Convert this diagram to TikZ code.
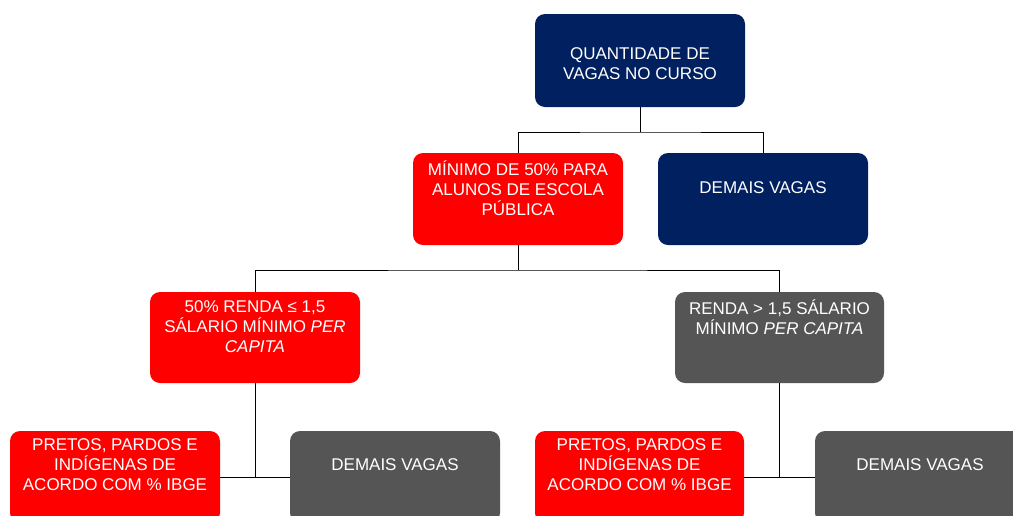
\documentclass[tikz,border=0pt]{standalone}
\usepackage{fontspec}
\setmainfont{Liberation Sans}
\definecolor{navy}{HTML}{002060}
\definecolor{redbox}{HTML}{FF0000}
\definecolor{graybox}{HTML}{555555}
\tikzset{
  box/.style={draw=none, rounded corners=10pt, minimum width=210pt, minimum height=92pt, inner sep=0pt},
  txt/.style={text=white, align=center, inner sep=0pt, font=\fontsize{17}{20}\selectfont},
  conn/.style={draw=black, line width=1pt}
}
\begin{document}
\begin{tikzpicture}[x=1pt, y=-1pt]
\useasboundingbox (0,0) rectangle (1013,515);
\clip (0,0) rectangle (1013,515);
\fill[white] (0,0) rectangle (1013,515);
% boxes
\node[box, fill=navy, minimum height=93pt] (q) at (640,60.5) {};
\node[box, fill=redbox] (m) at (518,199) {};
\node[box, fill=navy] (d1) at (763,199) {};
\node[box, fill=redbox, minimum height=91pt] (r1) at (255,337.5) {};
\node[box, fill=graybox, minimum height=91pt, minimum width=209pt] (r2) at (779.5,337.5) {};
\node[box, fill=redbox] (p1) at (115,477) {};
\node[box, fill=graybox] (d2) at (395,477) {};
\node[box, fill=redbox, minimum width=209pt] (p2) at (639.5,477) {};
\node[box, fill=graybox] (d3) at (920,477) {};
% texts
\node[txt] (tq) at ([yshift=-3pt]q.center) {QUANTIDADE DE\\VAGAS NO CURSO};
\node[txt] (tm) at ([yshift=11pt]m.center) {MÍNIMO DE 50\% PARA\\ALUNOS DE ESCOLA\\PÚBLICA};
\node[txt] (td1) at ([yshift=11pt]d1.center) {DEMAIS VAGAS};
\node[txt] (tr1) at ([yshift=10.5pt]r1.center) {50\% RENDA ≤ 1,5\\SÁLARIO MÍNIMO \textit{PER}\\\textit{CAPITA}};
\node[txt] (tr2) at ([yshift=20.5pt]r2.center) {RENDA > 1,5 SÁLARIO\\MÍNIMO \textit{PER CAPITA}};
\node[txt] (tp1) at ([yshift=12pt]p1.center) {PRETOS, PARDOS E\\INDÍGENAS DE\\ACORDO COM \% IBGE};
\node[txt] (td2) at ([yshift=12pt]d2.center) {DEMAIS VAGAS};
\node[txt] (tp2) at ([yshift=12pt]p2.center) {PRETOS, PARDOS E\\INDÍGENAS DE\\ACORDO COM \% IBGE};
\node[txt] (td3) at ([yshift=12pt]d3.center) {DEMAIS VAGAS};
% connectors
\coordinate (j1) at (640,132);
\coordinate (j2) at (518,270);
\draw[conn] (q.south) -- (j1);
\draw[conn] (m.north) |- (j1) -| (d1.north);
\draw[conn] (m.south) -- (j2);
\draw[conn] (r1.north) |- (j2) -| (r2.north);
\draw[conn] (r1.south) -- (r1.south |- p1.east);
\draw[conn] (p1.east) -- (d2.west);
\draw[conn] (r2.south) -- (r2.south |- p2.east);
\draw[conn] (p2.east) -- (d3.west);
\end{tikzpicture}
\end{document}
